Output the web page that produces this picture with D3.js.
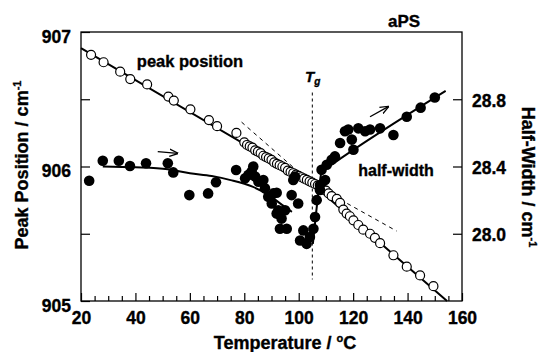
<!DOCTYPE html>
<html>
<head>
<meta charset="utf-8">
<script src="https://cdn.jsdelivr.net/npm/d3@7"></script>
<style>
  body { margin: 0; background: #fff; }
  text { font-family: "Liberation Sans", Arial, sans-serif; font-weight: bold; fill: #000; stroke: #000; stroke-width: 0.35px; }
</style>
</head>
<body>
<script>
// DATA
// axis ticks
var tempTicks = [20, 40, 60, 80, 100, 120, 140, 160];
var tempMinor = [25, 30, 35, 45, 50, 55, 65, 70, 75, 85, 90, 95, 105, 110, 115, 125, 130, 135, 145, 150, 155];
var peakTicks = [905, 906, 907];
var peakMinor = [905.5, 906.5];
var widthTicks = [28.0, 28.4, 28.8];

// peak position (open circles, left axis)
var peakT = [23.7, 28.3, 34.4, 38.1, 44.3, 52.1, 54.1, 60.2, 67.0, 70.0, 77.1,
    80, 81, 82, 83, 84, 85, 86, 87, 88, 89, 90, 91, 92, 93, 94, 95, 96, 97, 98, 99,
    100, 101, 102, 103, 104, 105, 106, 107, 108, 109, 110, 111,
    112.1, 114.0, 115.2, 116.4, 117.6, 118.8, 120.1, 121.9, 123.7, 126.2, 128.0, 129.9,
    134.8, 139.7, 144.6, 149.5];
var peakV = [906.83, 906.775, 906.705, 906.65, 906.61, 906.52, 906.49, 906.425, 906.345, 906.30, 906.25,
    906.18, 906.16, 906.15, 906.14, 906.12, 906.11, 906.10, 906.08, 906.07, 906.06, 906.05, 906.03, 906.02, 906.01, 906.00, 905.99, 905.97, 905.96, 905.95, 905.94,
    905.93, 905.92, 905.91, 905.90, 905.89, 905.88, 905.87, 905.86, 905.84, 905.83, 905.82, 905.80,
    905.78, 905.76, 905.73, 905.68, 905.65, 905.63, 905.60, 905.565, 905.53, 905.50, 905.47, 905.43,
    905.34, 905.255, 905.19, 905.11];

// half-width (filled circles, right axis)
var widthT = [23.0, 28.0, 33.9, 38.0, 43.9, 51.9, 53.9, 59.8, 66.7, 69.6, 77.0,
    80.3, 81.5, 82.7, 83.3, 84.0, 85.2, 87.0, 87.6, 88.8, 90.1, 90.7, 91.9, 91.9, 92.5,
    93.1, 93.7, 95.0, 95.6, 97.4, 98.0, 98.6, 99.8, 100.5, 101.7, 102.9, 104.1,
    105.4, 106.0, 106.6, 107.8, 107.8, 108.4, 109.7, 110.3, 112.1, 113.3, 115.2, 117.0, 118.2,
    119.5, 120.1, 121.9, 124.4, 126.2, 129.9, 134.8, 139.7, 144.8, 150.0];
var widthV = [28.315, 28.434, 28.434, 28.403, 28.419, 28.419, 28.365, 28.23, 28.24, 28.306, 28.379,
    28.33, 28.35, 28.37, 28.40, 28.34, 28.31, 28.32, 28.27, 28.22, 28.18, 28.24, 28.12, 28.244, 28.14,
    28.03, 28.09, 28.14, 28.03, 28.23, 28.32, 28.34, 28.18, 27.96, 28.02, 27.94, 27.98,
    28.03, 28.10, 28.20, 28.29, 28.26, 28.38, 28.32, 28.41, 28.44, 28.46, 28.54, 28.61, 28.62,
    28.56, 28.50, 28.627, 28.61, 28.62, 28.627, 28.587, 28.696, 28.75, 28.81];

// fitted lines
var peakFitT = [20, 105, 154.5];
var peakFitV = [906.88, 905.87, 905.0];
var glassDashT = [105, 136];
var glassDashV = [905.87, 905.52];
var meltDashT = [79, 105];
var meltDashV = [906.33, 905.87];
var glassCurveT = [28, 40, 51.9, 60, 68, 75, 83, 89, 94, 97.5];
var glassCurveW = [28.40, 28.395, 28.383, 28.36, 28.343, 28.319, 28.28, 28.23, 28.17, 28.13];
var meltCurveT = [105.2, 106.5, 107.5, 108.5, 112, 154];
var meltCurveW = [27.94, 28.14, 28.28, 28.37, 28.41, 28.85];

var Tg = 105;
var tgSpan = [905.16, 906.55];

// arrows (heating direction)
var arrowT = [[48.2, 55.5], [126.2, 132.9]];
var arrowW = [[28.488, 28.478], [28.696, 28.756]];

// D3
var svg = d3.select("body")
    .append("svg")
    .attr("width", 543)
    .attr("height", 352);

const margin = {top: 32, right: 81, bottom: 51, left: 81};
const width = 543 - margin.left - margin.right;
const height = 352 - margin.top - margin.bottom;

const xScale = d3.scaleLinear().domain([20, 160]).range([0, width]);
const yPeak = d3.scaleLinear().domain([905, 907]).range([height, 0]);
const yWidth = d3.scaleLinear().domain([27.6, 29.2]).range([height, 0]);

const g = svg.append('g')
    .attr('transform', 'translate(' + margin.left + ',' + margin.top + ')');

svg.append('defs').append('marker')
    .attr('id', 'arr')
    .attr('viewBox', '0 0 10 10')
    .attr('refX', 9).attr('refY', 5)
    .attr('markerWidth', 9).attr('markerHeight', 9)
    .attr('markerUnits', 'userSpaceOnUse')
    .attr('orient', 'auto')
    .append('path')
    .attr('d', 'M0,1 L10,5 L0,9')
    .attr('fill', 'none')
    .attr('stroke', '#000')
    .attr('stroke-width', 1.4);

// axes, ticks pointing inward
g.append('g').attr('transform', 'translate(0,' + height + ')')
    .call(d3.axisBottom(xScale).tickValues(tempTicks).tickSize(-8).tickPadding(11));
g.append('g').attr('transform', 'translate(0,' + height + ')')
    .call(d3.axisBottom(xScale).tickValues(tempMinor).tickSize(-5).tickFormat(''));
var yAxisL = g.append('g')
    .call(d3.axisLeft(yPeak).tickValues(peakTicks).tickSize(-9).tickPadding(10).tickFormat(d3.format('d')));
g.append('g')
    .call(d3.axisLeft(yPeak).tickValues(peakMinor).tickSize(-9).tickFormat(''));
var yAxisR = g.append('g').attr('transform', 'translate(' + width + ',0)')
    .call(d3.axisRight(yWidth).tickValues(widthTicks).tickSize(-9).tickPadding(10).tickFormat(d3.format('.1f')));

g.selectAll('.domain').remove();
g.selectAll('.tick line').attr('stroke', '#000').attr('stroke-width', 1.2);
g.selectAll('.tick text').attr('font-size', 17.5).attr('font-family', null).attr('fill', '#000');
yAxisL.selectAll('.tick text').attr('dy', '0.58em');
yAxisR.selectAll('.tick text').attr('dy', '0.4em');

g.append('rect')
    .attr('width', width).attr('height', height)
    .attr('fill', 'none').attr('stroke', '#000').attr('stroke-width', 1.3);

// Tg marker
g.append('line')
    .attr('x1', xScale(Tg)).attr('x2', xScale(Tg))
    .attr('y1', yPeak(tgSpan[1])).attr('y2', yPeak(tgSpan[0]))
    .attr('stroke', '#000').attr('stroke-width', 1).attr('stroke-dasharray', '3,3');

// fitted lines
function pts(xs, ys) { return xs.map(function(d, i){ return [d, ys[i]]; }); }
var linePeak = d3.line().x(d => xScale(d[0])).y(d => yPeak(d[1]));
var lineWidth = d3.line().x(d => xScale(d[0])).y(d => yWidth(d[1])).curve(d3.curveMonotoneX);

g.append('path').datum(pts(peakFitT, peakFitV)).attr('d', linePeak)
    .attr('fill', 'none').attr('stroke', '#000').attr('stroke-width', 2);
[pts(glassDashT, glassDashV), pts(meltDashT, meltDashV)].forEach(function(p){
    g.append('path').datum(p).attr('d', linePeak)
        .attr('fill', 'none').attr('stroke', '#000').attr('stroke-width', 1).attr('stroke-dasharray', '4,4');
});
[pts(glassCurveT, glassCurveW), pts(meltCurveT, meltCurveW)].forEach(function(p){
    g.append('path').datum(p).attr('d', lineWidth)
        .attr('fill', 'none').attr('stroke', '#000').attr('stroke-width', 2);
});

// markers
g.selectAll('circle.peak').data(pts(peakT, peakV))
    .enter().append('circle').attr('class', 'peak')
    .attr('cx', d => xScale(d[0])).attr('cy', d => yPeak(d[1]))
    .attr('r', 4.5)
    .attr('fill', '#fff').attr('stroke', '#000').attr('stroke-width', 1.2);

g.selectAll('circle.hw').data(pts(widthT, widthV))
    .enter().append('circle').attr('class', 'hw')
    .attr('cx', d => xScale(d[0])).attr('cy', d => yWidth(d[1]))
    .attr('r', 5.3)
    .attr('fill', '#000');

// arrows
arrowT.forEach(function(t, i){
    g.append('line')
        .attr('x1', xScale(t[0])).attr('y1', yWidth(arrowW[i][0]))
        .attr('x2', xScale(t[1])).attr('y2', yWidth(arrowW[i][1]))
        .attr('stroke', '#000').attr('stroke-width', 1.3)
        .attr('marker-end', 'url(#arr)');
});

// labels
svg.append('text').attr('x', 190).attr('y', 67).attr('text-anchor', 'middle')
    .attr('font-size', 16.5).text('peak position');
svg.append('text').attr('x', 396).attr('y', 176).attr('text-anchor', 'middle')
    .attr('font-size', 16).text('half-width');
svg.append('text').attr('x', 404).attr('y', 27).attr('text-anchor', 'middle')
    .attr('font-size', 17).text('aPS');

var tg = svg.append('text').attr('x', 305).attr('y', 82)
    .attr('font-size', 15).attr('font-style', 'italic');
tg.append('tspan').text('T');
tg.append('tspan').attr('font-size', 10).attr('dy', 3).text('g');

var xt = svg.append('text').attr('x', 285).attr('y', 349).attr('text-anchor', 'middle')
    .attr('font-size', 18);
xt.append('tspan').text('Temperature / ');
xt.append('tspan').attr('font-size', 11).attr('dy', -7).text('o');
xt.append('tspan').attr('dy', 7).text('C');

var yl = svg.append('text').attr('transform', 'translate(28,165) rotate(-90)')
    .attr('text-anchor', 'middle').attr('font-size', 18);
yl.append('tspan').text('Peak Position / cm');
yl.append('tspan').attr('font-size', 11).attr('dy', -7).text('-1');

var yr = svg.append('text').attr('transform', 'translate(522,177) rotate(90)')
    .attr('text-anchor', 'middle').attr('font-size', 18);
yr.append('tspan').text('Half-Width / cm');
yr.append('tspan').attr('font-size', 11).attr('dy', -7).text('-1');
</script>
</body>
</html>
